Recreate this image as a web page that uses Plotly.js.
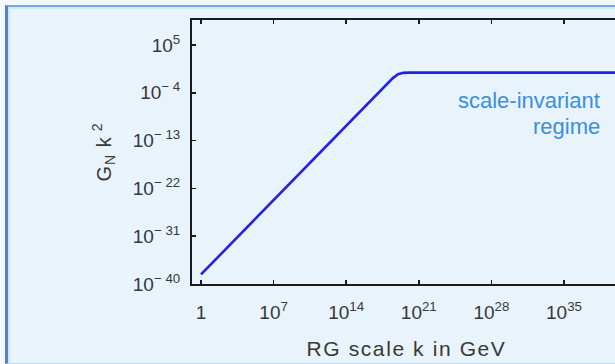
<!DOCTYPE html>
<html>
<head>
<meta charset="utf-8">
<script src="https://cdn.plot.ly/plotly-3.0.1.min.js"></script>
<style>
  html, body { margin: 0; padding: 0; width: 615px; height: 364px; overflow: hidden; background: #f4f8fc; }
  #box { position: absolute; left: 5px; top: 5px; width: 720px; height: 356px;
         background: #e8f3fc; border-left: 3px solid #4f84c6; border-top: 2px solid #7ba7dc;
         border-bottom: 1px solid #c3d8ee; box-shadow: inset 2px 2px 0 #d3e6f8; }
  #chart { position: absolute; left: 0; top: 0; width: 680px; height: 364px; }
  .xtitle { letter-spacing: 1.6px; }
  .ytitle { letter-spacing: 1px; }
</style>
</head>
<body>
<div id="box"></div>
<div id="chart"></div>
<script>
// RG scale k (GeV) and dimensionless Newton coupling G_N k^2
const kValues = [1, 1e4, 1e8, 1e12, 1e16, 1e17, 1e18, 3.16e18, 1e19, 3.16e19, 1e20, 1e21, 1e25, 1e30, 1e35, 1e40, 1e42];
const gValues = [6.3e-39, 6.3e-31, 6.3e-23, 6.3e-15, 6.3e-7, 6.3e-5, 6.2e-3, 5.8e-2, 0.31, 0.56, 0.61, 0.62, 0.62, 0.62, 0.62, 0.62, 0.62];

const xTickVals = [1, 1e7, 1e14, 1e21, 1e28, 1e35];
const xTickText = ['1', '10<sup>7</sup>', '10<sup>14</sup>', '10<sup>21</sup>', '10<sup>28</sup>', '10<sup>35</sup>'];
const yTickVals = [1e-40, 1e-31, 1e-22, 1e-13, 1e-4, 1e5];
const yTickText = ['10<sup>− 40</sup>', '10<sup>− 31</sup>', '10<sup>− 22</sup>', '10<sup>− 13</sup>', '10<sup>− 4</sup>', '10<sup>5</sup>'];

const annotLines = ['scale-invariant', 'regime'];
const xTitle = 'RG scale k in GeV';
const yTitle = 'G<sub>N</sub> k<sup> 2</sup>';

const tickFont = { family: 'Liberation Sans, Arial, sans-serif', size: 19, color: '#383838' };

const trace = {
  x: kValues, y: gValues, type: 'scatter', mode: 'lines',
  line: { color: '#2222e6', width: 2.6 }, hoverinfo: 'skip'
};

const layout = {
  width: 680, height: 364,
  margin: { l: 192, r: 59, t: 20, b: 80 },
  paper_bgcolor: 'rgba(0,0,0,0)', plot_bgcolor: 'rgba(0,0,0,0)',
  showlegend: false,
  xaxis: {
    type: 'log', range: [-0.87, 40.5],
    tickvals: xTickVals, ticktext: xTickText, tickfont: tickFont,
    ticks: 'inside', ticklen: 4, tickwidth: 1.5, tickcolor: '#1a1a1a',
    showline: true, linecolor: '#1a1a1a', linewidth: 2, mirror: 'ticks',
    showgrid: false, zeroline: false, ticklabelstandoff: 10,
    title: { text: xTitle, font: { family: 'Liberation Sans, Arial, sans-serif', size: 21, color: '#383838' }, standoff: 20 },
    automargin: false
  },
  yaxis: {
    type: 'log', range: [-40, 9.7],
    tickvals: yTickVals, ticktext: yTickText, tickfont: tickFont,
    ticks: 'inside', ticklen: 4, tickwidth: 1.5, tickcolor: '#1a1a1a',
    showline: true, linecolor: '#1a1a1a', linewidth: 2, mirror: 'ticks',
    showgrid: false, zeroline: false, ticklabelstandoff: 6,
    title: { text: yTitle, font: { family: 'Liberation Sans, Arial, sans-serif', size: 20, color: '#383838' }, standoff: 16 },
    automargin: false
  },
  annotations: [
    { xref: 'paper', yref: 'paper', x: 0.9557, y: 0.694, xanchor: 'right', yanchor: 'middle',
      text: annotLines[0], showarrow: false, align: 'right',
      font: { family: 'Liberation Sans, Arial, sans-serif', size: 22, color: '#3a8fe0' } },
    { xref: 'paper', yref: 'paper', x: 0.9557, y: 0.597, xanchor: 'right', yanchor: 'middle',
      text: annotLines[1], showarrow: false, align: 'right',
      font: { family: 'Liberation Sans, Arial, sans-serif', size: 22, color: '#3a8fe0' } }
  ]
};

Plotly.newPlot('chart', [trace], layout, { staticPlot: true, displayModeBar: false });
</script>
</body>
</html>
